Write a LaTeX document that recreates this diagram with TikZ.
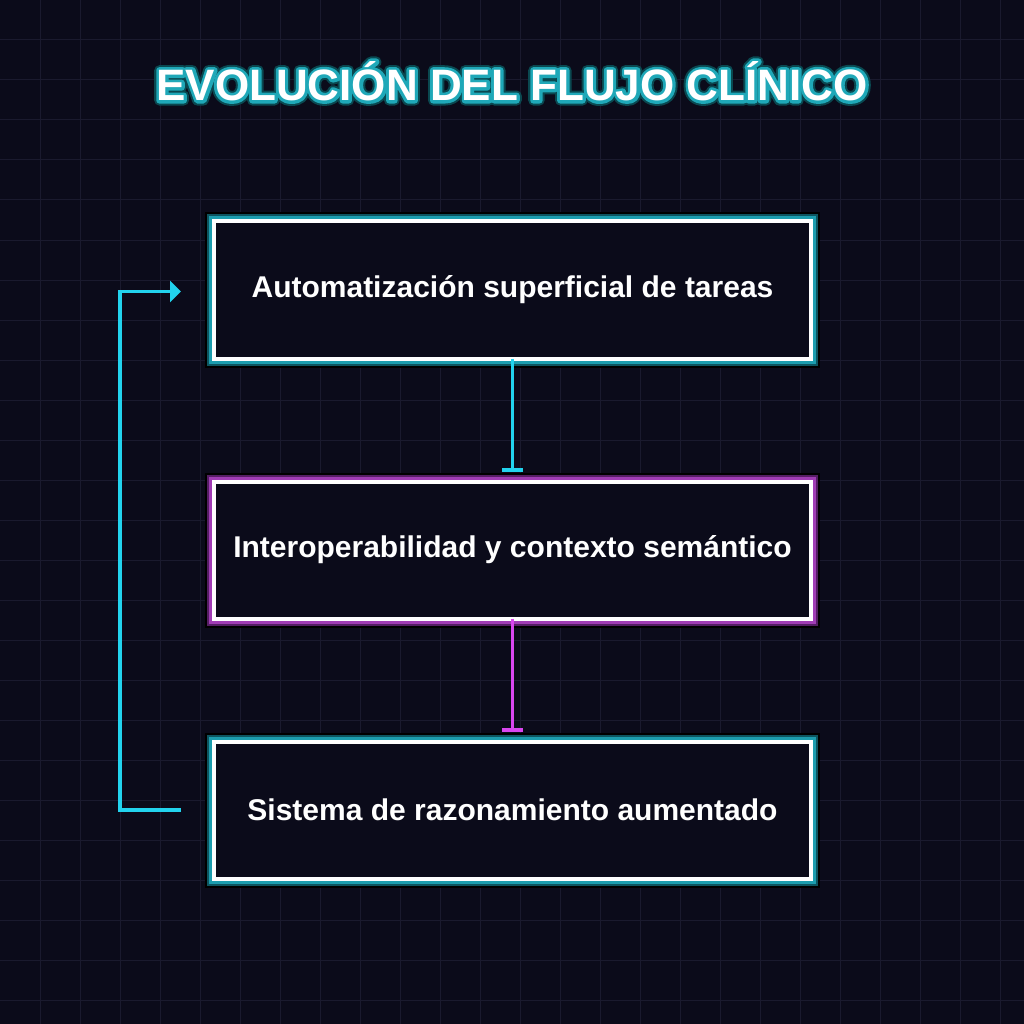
\documentclass[tikz,border=0pt]{standalone}
\usepackage{fontspec}
\setmainfont{Liberation Sans}
\usetikzlibrary{arrows.meta,calc}
\definecolor{bg}{HTML}{0B0B1A}
\definecolor{gridc}{HTML}{1A1A2E}
\definecolor{cyanl}{HTML}{22D3EE}
\definecolor{cyang}{HTML}{1C9DAE}
\definecolor{cyand}{HTML}{0D5560}
\definecolor{magl}{HTML}{D946EF}
\definecolor{magg}{HTML}{A03CB4}
\definecolor{magd}{HTML}{551E64}
\definecolor{ttlg}{HTML}{1FA8B8}
\definecolor{ttld}{HTML}{0A4850}
\newcommand\strokedtext[2]{\special{pdf:literal direct 2 Tr #1 w 1 j}#2\special{pdf:literal direct 0 Tr}}
\newcommand\ttltext{EVOLUCIÓN DEL FLUJO CLÍNICO}
\tikzset{
  boxbase/.style={fill=bg, draw=white, line width=4pt, minimum width=597pt, minimum height=137pt,
    inner sep=0pt, outer sep=0pt, text=white, font=\fontsize{30}{36}\selectfont\bfseries},
  cyanbox/.style={boxbase,
    preaction={draw=black, line width=18pt},
    preaction={draw=cyand, line width=14pt},
    preaction={draw=cyang, line width=10pt}},
  magbox/.style={boxbase,
    preaction={draw=black, line width=18pt},
    preaction={draw=magd, line width=14pt},
    preaction={draw=magg, line width=10pt}},
  ttl/.style={font=\fontsize{44}{50}\selectfont\bfseries, inner sep=0pt, anchor=base},
  linkc/.style={draw=cyanl, line width=3.5pt, -{Bar[width=21pt,length=2.5pt]}},
  linkm/.style={draw=magl, line width=3.5pt, -{Bar[width=21pt,length=2.5pt]}},
  loopc/.style={draw=cyanl, line width=3.5pt, -{Triangle[width=21pt,length=11pt]}}
}
\begin{document}
\begin{tikzpicture}[x=1pt,y=-1pt]
\fill[bg] (0,0) rectangle (1024,1024);
\useasboundingbox (0,0) rectangle (1024,1024);
\foreach \k in {40,80,...,1000}{
  \draw[gridc, line width=1pt] (\k,0) -- (\k,1024);
  \draw[gridc, line width=1pt] (0,\k) -- (1024,\k);
}
% title with outline glow
\node[ttl, text=ttld] (tdark) at (512,100.5) {\strokedtext{10}{\ttltext}};
\node[ttl, text=ttlg] (tcyan) at (512,100.5) {\strokedtext{6}{\ttltext}};
\node[ttl, text=white] (title) at (512,100.5) {\ttltext};
% boxes
\node[cyanbox] (b1) at (512.5,290) {Automatización superficial de tareas};
\node[magbox] (b2) at (512.5,550) {Interoperabilidad y contexto semántico};
\node[cyanbox] (b3) at (512.5,810) {Sistema de razonamiento aumentado};
% connectors
\draw[linkc] (b1.south) -- ([yshift=10pt]b2.north);
\draw[linkm] (b2.south) -- ([yshift=10pt]b3.north);
\coordinate (ls) at ([xshift=-33pt]b3.west);
\coordinate (le) at ([xshift=-33pt,yshift=-1.5pt]b1.west);
\draw[loopc] (ls) -- ++(-61,0) |- (le);
\end{tikzpicture}
\end{document}
